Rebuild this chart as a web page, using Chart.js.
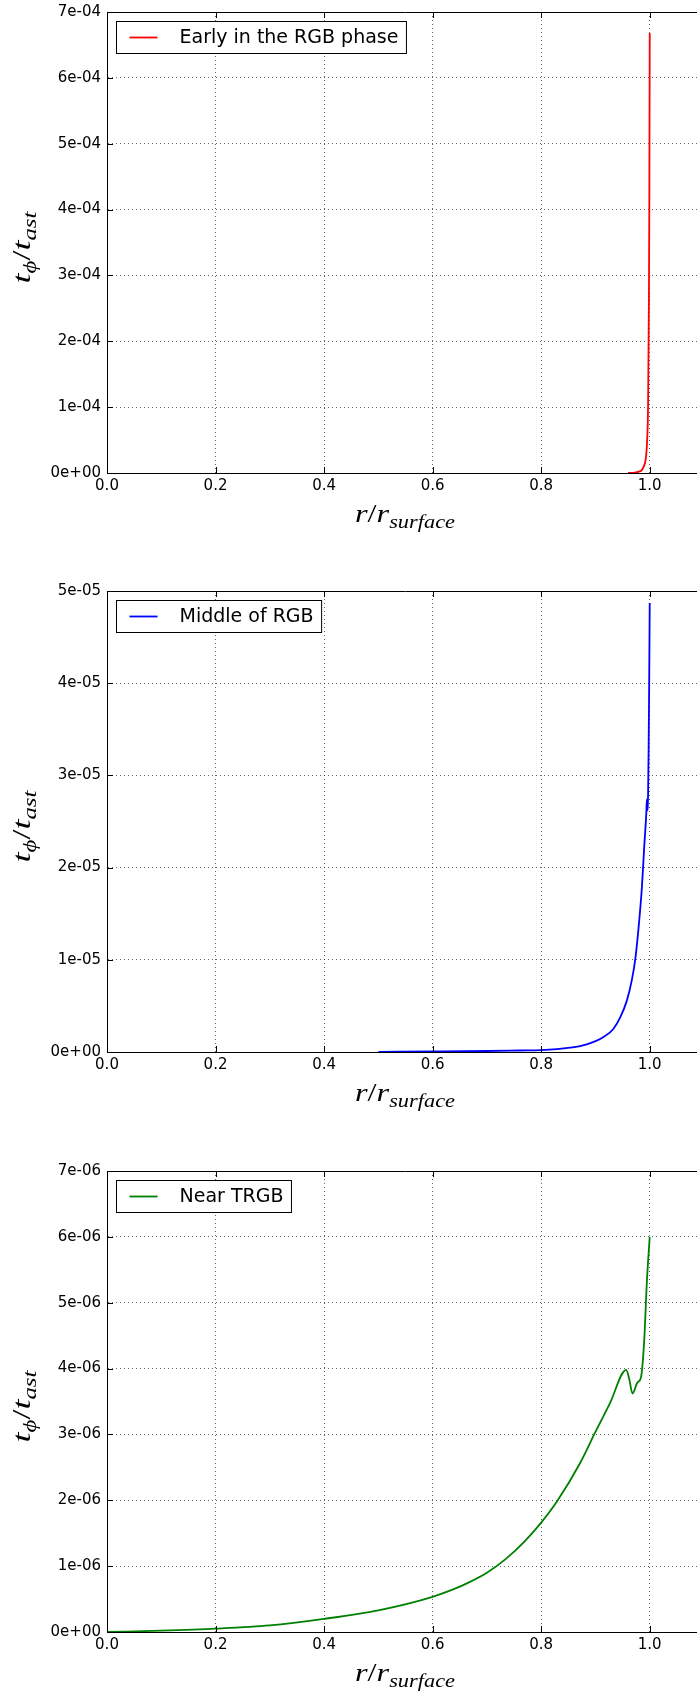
<!DOCTYPE html>
<html>
<head>
<meta charset="utf-8">
<script src="https://cdn.jsdelivr.net/npm/chart.js@4.4.0/dist/chart.umd.min.js"></script>
<style>
    html, body { margin: 0; padding: 0; background: #fff; overflow: hidden; }
    .panel { position: absolute; left: 0; width: 704px; height: 565px; }
</style>
</head>
<body>
<div class="panel" style="top:0px"><canvas id="earlyChart" width="704" height="565"></canvas></div>
<div class="panel" style="top:579px"><canvas id="middleChart" width="704" height="565"></canvas></div>
<div class="panel" style="top:1159px"><canvas id="nearChart" width="704" height="565"></canvas></div>
<script>
// r / r_surface and t_phi / t_ast for the three RGB stages
const earlyR = [0.96, 0.97, 0.98, 0.985, 0.99, 0.992, 0.995, 0.997, 0.9985, 0.9993, 1.0];
const earlyT = [0, 0.2e-6, 2e-6, 4e-6, 1.2e-5, 1.8e-5, 4.6e-5, 1.05e-4, 2.6e-4, 4.2e-4, 6.68e-4];

const middleR = [0.5, 0.6, 0.7, 0.76, 0.8, 0.853, 0.884, 0.915, 0.933, 0.946, 0.958, 0.967, 0.973,
                 0.979, 0.9856, 0.9898, 0.9936, 0.9948, 0.9952, 0.997, 0.998, 0.999, 1.0];
const middleT = [0.02e-6, 0.06e-6, 0.11e-6, 0.16e-6, 0.2e-6, 0.47e-6, 0.83e-6, 1.63e-6, 2.5e-6, 3.8e-6,
                 5.6e-6, 7.8e-6, 9.9e-6, 13.2e-6, 17.9e-6, 22.2e-6, 25.8e-6, 27.4e-6, 26.2e-6, 28e-6,
                 33e-6, 40e-6, 48.7e-6];

const nearR = [0, 0.1, 0.2, 0.3, 0.4, 0.5, 0.6, 0.64, 0.666, 0.7, 0.735, 0.77, 0.8, 0.829, 0.872, 0.8995,
               0.927, 0.9566, 0.962, 0.9683, 0.9775, 0.9837, 0.9898, 0.9948, 1.0];
const nearT = [0, 0.02e-6, 0.05e-6, 0.1e-6, 0.2e-6, 0.33e-6, 0.535e-6, 0.654e-6, 0.75e-6, 0.9e-6, 1.11e-6,
               1.38e-6, 1.66e-6, 1.98e-6, 2.57e-6, 3.03e-6, 3.48e-6, 3.98e-6, 3.85e-6, 3.62e-6, 3.79e-6,
               3.86e-6, 4.42e-6, 5.33e-6, 6.0e-6];

const xTitle = [['r', 'it'], ['/', 'up'], ['r', 'it'], ['surface', 'sub']];
const yTitle = [['t', 'it'], ['\u03d5', 'sub'], ['/', 'up'], ['t', 'it'], ['ast', 'sub']];

function sci(v) {
    const [m, e] = v.toExponential(0).split('e');
    const n = parseInt(e, 10);
    return m + 'e' + (n < 0 ? '-' : '+') + String(Math.abs(n)).padStart(2, '0');
}

// math-style label, stretched to a set width
function drawMath(ctx, parts, width) {
    const fonts = {
        it: 'italic 26px "Liberation Serif", "DejaVu Serif"',
        up: '26px "Liberation Serif", "DejaVu Serif"',
        sub: 'italic 18px "Liberation Serif", "DejaVu Serif"'
    };
    let w = 0;
    parts.forEach(p => { ctx.font = fonts[p[1]]; w += ctx.measureText(p[0]).width; });
    ctx.scale(width / w, 1);
    let x = -w / 2;
    ctx.textBaseline = 'alphabetic';
    ctx.textAlign = 'left';
    parts.forEach(p => {
        ctx.font = fonts[p[1]];
        ctx.fillText(p[0], x, p[1] === 'sub' ? 6 : 0);
        x += ctx.measureText(p[0]).width;
    });
}

const frame = {
    id: 'frame',
    afterDraw(chart) {
        const { ctx, chartArea: a, scales: { x, y } } = chart;
        ctx.save();
        ctx.strokeStyle = '#000';
        ctx.lineWidth = 1;
        ctx.beginPath();
        ctx.moveTo(a.left, a.top + 0.5);
        ctx.lineTo(a.right, a.top + 0.5);
        x.ticks.forEach(t => {
            const px = Math.round(x.getPixelForValue(t.value)) + 0.5;
            ctx.moveTo(px, a.bottom); ctx.lineTo(px, a.bottom - 6);
            ctx.moveTo(px, a.top); ctx.lineTo(px, a.top + 6);
        });
        y.ticks.forEach(t => {
            const py = Math.round(y.getPixelForValue(t.value)) + 0.5;
            ctx.moveTo(a.left, py); ctx.lineTo(a.left + 6, py);
        });
        ctx.stroke();

        // legend box
        const ds = chart.data.datasets[0];
        ctx.font = '19px "DejaVu Sans"';
        const bx = a.left + 9.5, by = a.top + 9.5, bh = 32;
        const bw = 63 + ctx.measureText(ds.label).width + 8;
        ctx.fillStyle = '#fff';
        ctx.fillRect(bx, by, bw, bh);
        ctx.strokeRect(bx, by, bw, bh);
        ctx.strokeStyle = ds.borderColor;
        ctx.lineWidth = ds.borderWidth;
        ctx.beginPath();
        ctx.moveTo(bx + 13, by + bh / 2);
        ctx.lineTo(bx + 41, by + bh / 2);
        ctx.stroke();
        ctx.fillStyle = '#000';
        ctx.textBaseline = 'middle';
        ctx.fillText(ds.label, bx + 63, by + bh / 2 + 1);

        // axis titles
        ctx.save();
        ctx.translate(405, a.bottom + 49);
        drawMath(ctx, xTitle, 100);
        ctx.restore();
        ctx.save();
        ctx.translate(30, (a.top + a.bottom) / 2 + 5);
        ctx.rotate(-Math.PI / 2);
        drawMath(ctx, yTitle, 72);
        ctx.restore();
        ctx.restore();
    }
};

function makeChart(id, label, color, rs, ts, yMax, yStep) {
    return new Chart(document.getElementById(id), {
        type: 'line',
        data: {
            datasets: [{
                label: label,
                data: rs.map((r, i) => ({ x: r, y: ts[i] })),
                borderColor: color,
                borderWidth: 1.8,
                pointRadius: 0,
                cubicInterpolationMode: 'monotone',
                fill: false
            }]
        },
        options: {
            responsive: false,
            animation: false,
            events: [],
            layout: { padding: { top: 12, right: 0, bottom: 0, left: 0 } },
            plugins: { legend: { display: false }, tooltip: { enabled: false } },
            scales: {
                x: {
                    type: 'linear',
                    min: 0,
                    max: 1.1,
                    grid: { color: 'rgba(0,0,0,0.6)', lineWidth: 1, drawTicks: false },
                    border: { color: '#000', width: 1, dash: [1, 3] },
                    ticks: {
                        stepSize: 0.2,
                        includeBounds: false,
                        padding: 4,
                        color: '#000',
                        font: { family: 'DejaVu Sans', size: 15 },
                        callback: v => v.toFixed(1)
                    },
                    afterFit: s => { s.height = 92; }
                },
                y: {
                    min: 0,
                    max: yMax,
                    grid: { color: 'rgba(0,0,0,0.6)', lineWidth: 1, tickLength: 6, tickColor: 'rgba(0,0,0,0)' },
                    border: { color: '#000', width: 1, dash: [1, 3] },
                    ticks: {
                        stepSize: yStep,
                        padding: 0,
                        color: '#000',
                        font: { family: 'DejaVu Sans', size: 15 },
                        callback: v => sci(v)
                    },
                    afterFit: s => { s.width = 107; }
                }
            }
        },
        plugins: [frame]
    });
}

makeChart('earlyChart', 'Early in the RGB phase', '#ff0000', earlyR, earlyT, 7e-4, 1e-4);
makeChart('middleChart', 'Middle of RGB', '#0000ff', middleR, middleT, 5e-5, 1e-5);
makeChart('nearChart', 'Near TRGB', '#008000', nearR, nearT, 7e-6, 1e-6);
</script>
</body>
</html>
